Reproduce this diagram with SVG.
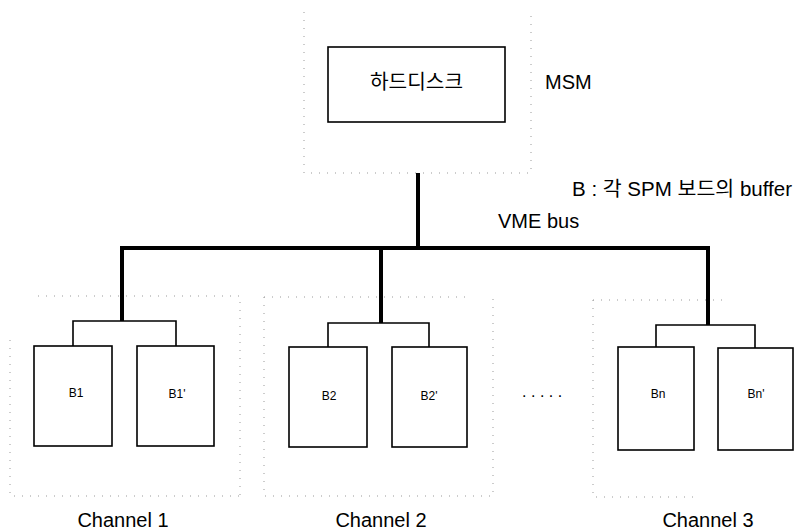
<svg xmlns="http://www.w3.org/2000/svg" width="797" height="532" viewBox="0 0 797 532">
<style>
.box{fill:#fff;stroke:#000;stroke-width:1.6}
.frame{fill:none;stroke:#999;stroke-width:1;stroke-dasharray:1 7}
.bus{fill:none;stroke:#000;stroke-width:4;stroke-linejoin:miter}
.thin{fill:none;stroke:#000;stroke-width:1.6}
.t{font-family:"Liberation Sans","Noto Sans CJK KR",Arial,sans-serif;fill:#000}
.big{font-size:20px}
.small{font-size:12px}
</style>
<rect width="797" height="532" fill="#fff"/>
<g id="frames">
<path class="frame" d="M304,12 V173 H531 V12"/>
<path class="frame" d="M38,296 H240 V496 M10,340 V496 H240"/>
<path class="frame" d="M264,297 H468 M264,297 V496 H493 V297"/>
<path class="frame" d="M593,300 H723 M593,300 V497 H700"/>
</g>
<g id="connectors">
<path class="bus" d="M418,173 V248"/>
<path class="bus" d="M122,321 V248 H708 V325"/>
<path class="bus" d="M381,248 V323"/>
<path class="thin" d="M73,346 V321 H176 V346"/>
<path class="thin" d="M328,347 V323 H429 V347"/>
<path class="thin" d="M656,348 V325 H755 V348"/>
</g>
<g id="harddisk">
<rect class="box" x="328" y="47" width="177" height="75"/>
<text class="t big" x="416.5" y="89" text-anchor="middle" textLength="93" lengthAdjust="spacingAndGlyphs">하드디스크</text>
</g>
<g id="msm-label"><text class="t big" x="545" y="89">MSM</text></g>
<g id="legend"><text class="t big" x="572" y="196" textLength="220" lengthAdjust="spacingAndGlyphs">B : 각 SPM 보드의 buffer</text></g>
<g id="vme-label"><text class="t big" x="498" y="228">VME bus</text></g>
<g id="B1">
<rect class="box" x="34" y="346" width="78" height="100"/>
<text class="t small" x="76" y="397" text-anchor="middle">B1</text>
</g>
<g id="B1p">
<rect class="box" x="137" y="346" width="77" height="100"/>
<text class="t small" x="177" y="398" text-anchor="middle">B1'</text>
</g>
<g id="B2">
<rect class="box" x="289" y="347" width="78" height="100"/>
<text class="t small" x="329" y="400" text-anchor="middle">B2</text>
</g>
<g id="B2p">
<rect class="box" x="392" y="347" width="75" height="100"/>
<text class="t small" x="429" y="400" text-anchor="middle">B2'</text>
</g>
<g id="Bn">
<rect class="box" x="618" y="347" width="76" height="103"/>
<text class="t small" x="658" y="398" text-anchor="middle">Bn</text>
</g>
<g id="Bnp">
<rect class="box" x="718" y="348" width="75" height="102"/>
<text class="t small" x="756" y="398" text-anchor="middle">Bn'</text>
</g>
<g id="ellipsis"><text class="t" x="522" y="397" font-size="16" letter-spacing="4.5">.....</text></g>
<g id="channel1"><text class="t big" x="123" y="527" text-anchor="middle">Channel 1</text></g>
<g id="channel2"><text class="t big" x="381" y="527" text-anchor="middle">Channel 2</text></g>
<g id="channel3"><text class="t big" x="708" y="527" text-anchor="middle">Channel 3</text></g>
</svg>
